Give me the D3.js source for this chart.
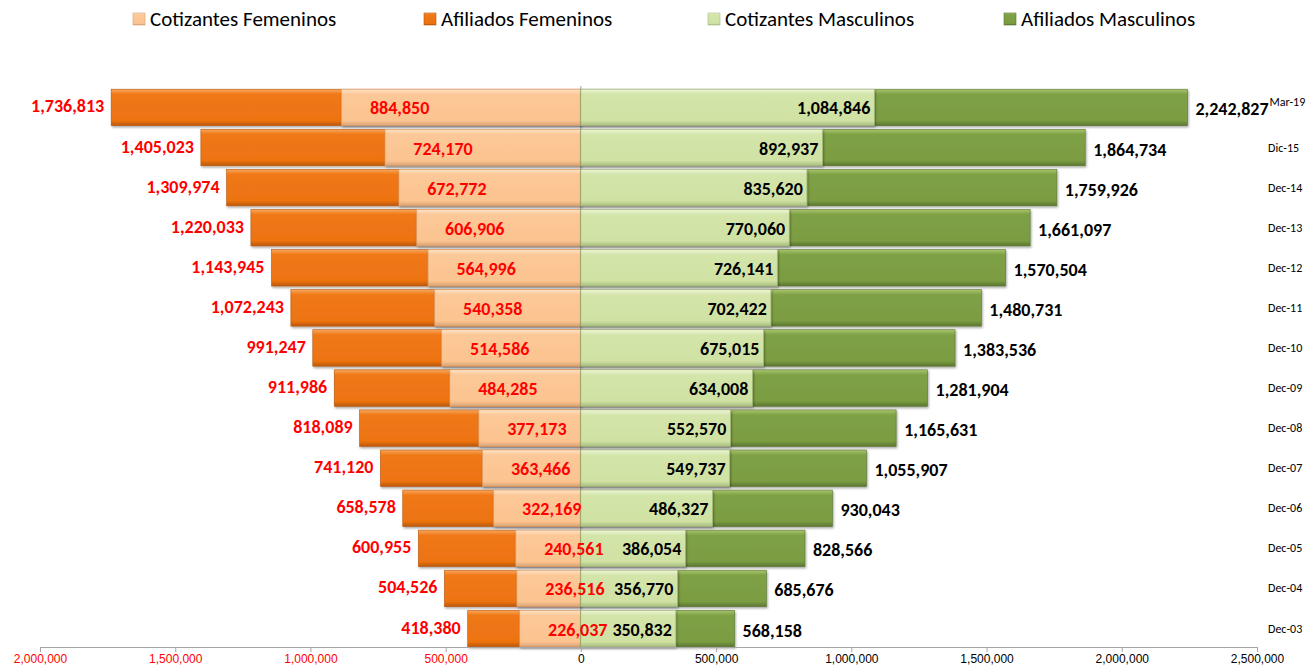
<!DOCTYPE html>
<html>
<head>
<meta charset="utf-8">
<script src="https://cdn.jsdelivr.net/npm/d3@7"></script>
<style>
  body { margin: 0; background: #fff; }
  svg { display: block; font-family: Carlito, "Liberation Sans Narrow", "Open Sans", sans-serif; }
</style>
</head>
<body>
<svg id="chart" width="1312" height="671"></svg>
<script>
// categories top -> bottom
var categories = ["Mar-19", "Dic-15", "Dec-14", "Dec-13", "Dec-12", "Dec-11", "Dec-10",
                  "Dec-09", "Dec-08", "Dec-07", "Dec-06", "Dec-05", "Dec-04", "Dec-03"];
var afiliadosFem = [1736813, 1405023, 1309974, 1220033, 1143945, 1072243, 991247,
                    911986, 818089, 741120, 658578, 600955, 504526, 418380];
var cotizantesFem = [884850, 724170, 672772, 606906, 564996, 540358, 514586,
                     484285, 377173, 363466, 322169, 240561, 236516, 226037];
var cotizantesMasc = [1084846, 892937, 835620, 770060, 726141, 702422, 675015,
                      634008, 552570, 549737, 486327, 386054, 356770, 350832];
var afiliadosMasc = [2242827, 1864734, 1759926, 1661097, 1570504, 1480731, 1383536,
                     1281904, 1165631, 1055907, 930043, 828566, 685676, 568158];
var tickValues = [-2000000, -1500000, -1000000, -500000, 0, 500000, 1000000, 1500000, 2000000, 2500000];
var legendNames = ["Cotizantes Femeninos", "Afiliados Femeninos", "Cotizantes Masculinos", "Afiliados Masculinos"];

var svg = d3.select("#chart");
var fmt = d3.format(",");

var x = d3.scaleLinear().domain([-2000000, 2500000]).range([40, 1257]);
var y = d3.scaleBand().domain(categories).range([88, 648]).paddingInner(0.09).paddingOuter(0.03);

// gradients [light top, main, main, dark bottom]
var fills = {
    afilFem:  ["#f8a860", "#f07816", "#ed7311", "#b9580c"],
    cotFem:   ["#ffe3c6", "#fdc898", "#fbc490", "#d9a274"],
    cotMasc:  ["#eef5d9", "#d4e5aa", "#cfe1a3", "#a9bd80"],
    afilMasc: ["#a9c56e", "#7fa145", "#7b9c42", "#5a7630"]
};
var defs = svg.append("defs");
Object.keys(fills).forEach(function(k) {
    var g = defs.append("linearGradient").attr("id", "g-" + k)
        .attr("x1", 0).attr("y1", 0).attr("x2", 0).attr("y2", 1);
    var c = fills[k];
    g.append("stop").attr("offset", "0%").attr("stop-color", c[0]);
    g.append("stop").attr("offset", "14%").attr("stop-color", c[1]);
    g.append("stop").attr("offset", "86%").attr("stop-color", c[2]);
    g.append("stop").attr("offset", "100%").attr("stop-color", c[3]);
});
defs.append("filter").attr("id", "shadow").attr("x", "-5%").attr("y", "-20%").attr("width", "110%").attr("height", "150%")
    .append("feDropShadow").attr("dx", 1).attr("dy", 1.5).attr("stdDeviation", 1)
    .attr("flood-color", "#000").attr("flood-opacity", 0.35);

// zero line
svg.append("line")
    .attr("x1", x(0)).attr("x2", x(0))
    .attr("y1", 86).attr("y2", 647)
    .attr("stroke", "#a6a6a6").attr("stroke-width", 1);

function drawBars(values, key, sign) {
    svg.append("g").selectAll("rect")
        .data(values)
        .enter().append("rect")
        .attr("x", function(d) { return sign < 0 ? x(-d) : x(0); })
        .attr("y", function(d, i) { return y(categories[i]); })
        .attr("width", function(d) { return Math.abs(x(sign * d) - x(0)); })
        .attr("height", y.bandwidth())
        .attr("fill", "url(#g-" + key + ")")
        .attr("stroke", fills[key][3]).attr("stroke-width", 0.6)
        .attr("filter", "url(#shadow)");
}
drawBars(afiliadosFem, "afilFem", -1);
drawBars(cotizantesFem, "cotFem", -1);
drawBars(afiliadosMasc, "afilMasc", 1);
drawBars(cotizantesMasc, "cotMasc", 1);

function cy(i) { return y(categories[i]) + y.bandwidth() / 2; }

var labels = svg.append("g")
    .attr("font-weight", "bold").attr("font-size", 18).attr("dominant-baseline", "central");

labels.selectAll(".lfa").data(afiliadosFem).enter().append("text")
    .attr("x", function(d) { return x(-d) - 7; })
    .attr("y", function(d, i) { return cy(i) - 1; })
    .attr("text-anchor", "end").attr("fill", "#ff0000")
    .text(fmt);

labels.selectAll(".lfc").data(cotizantesFem).enter().append("text")
    .attr("x", function(d) { return x(-d) + 58; })
    .attr("y", function(d, i) { return cy(i) + 1; })
    .attr("text-anchor", "middle").attr("fill", "#ff0000")
    .text(fmt);

labels.selectAll(".lmc").data(cotizantesMasc).enter().append("text")
    .attr("x", function(d) { return x(d) - 4; })
    .attr("y", function(d, i) { return cy(i) + 1; })
    .attr("text-anchor", "end").attr("fill", "#000")
    .text(fmt);

var afilMascLabels = labels.selectAll(".lma").data(afiliadosMasc).enter().append("text")
    .attr("x", function(d) { return x(d) + 8; })
    .attr("y", function(d, i) { return cy(i) + 2; })
    .attr("text-anchor", "start").attr("fill", "#000")
    .text(fmt);

// category labels on the right, pushed aside if a value label reaches them
var catX = 1268;
function labelEnd(i) {
    return x(afiliadosMasc[i]) + 8 + afilMascLabels.nodes()[i].getComputedTextLength();
}
svg.append("g").selectAll("text")
    .data(categories)
    .enter().append("text")
    .attr("x", function(d, i) { return Math.max(catX, labelEnd(i) + 1); })
    .attr("y", function(d, i) { return labelEnd(i) + 1 > catX ? cy(i) - 5 : cy(i); })
    .attr("dominant-baseline", "central")
    .attr("font-size", 12).attr("fill", "#000")
    .text(function(d) { return d; });

// bottom axis
var axis = d3.axisBottom(x)
    .tickValues(tickValues)
    .tickSize(5).tickSizeOuter(0)
    .tickFormat(function(d) { return fmt(Math.abs(d)); });
var ax = svg.append("g")
    .attr("transform", "translate(0,647)")
    .call(axis);
ax.select(".domain").attr("stroke", "#a6a6a6");
ax.selectAll(".tick line").attr("stroke", "#a6a6a6");
ax.selectAll(".tick text")
    .attr("font-family", null)
    .attr("font-size", 12)
    .attr("dy", "0.7em")
    .attr("fill", function(d) { return d < 0 ? "#ff0000" : "#000"; });

// legend
var legendKeys = ["cotFem", "afilFem", "cotMasc", "afilMasc"];
var legendX = [133, 424, 708, 1004];
var lg = svg.append("g").selectAll("g")
    .data(legendNames)
    .enter().append("g")
    .attr("transform", function(d, i) { return "translate(" + legendX[i] + ",19)"; });
lg.append("rect")
    .attr("x", 0).attr("y", -6).attr("width", 12).attr("height", 12)
    .attr("fill", function(d, i) { return "url(#g-" + legendKeys[i] + ")"; })
    .attr("stroke", function(d, i) { return fills[legendKeys[i]][3]; }).attr("stroke-width", 0.6);
lg.append("text")
    .attr("x", 17).attr("y", 0)
    .attr("dominant-baseline", "central")
    .attr("font-size", 21).attr("fill", "#000")
    .text(function(d) { return d; });
</script>
</body>
</html>
